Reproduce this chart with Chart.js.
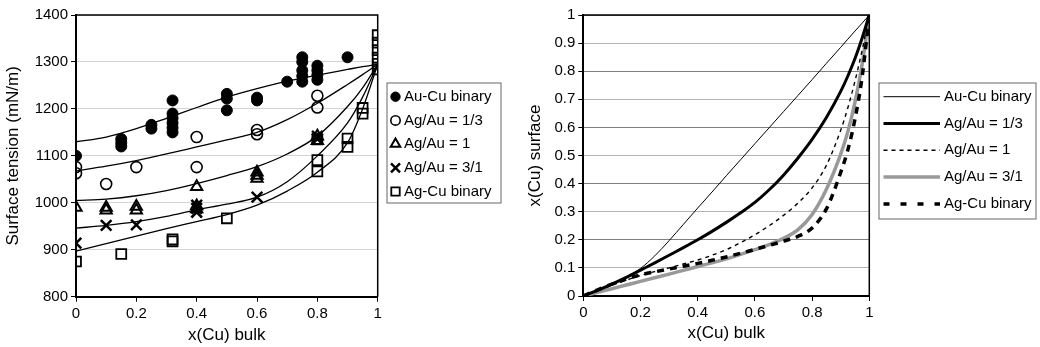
<!DOCTYPE html>
<html>
<head>
<meta charset="utf-8">
<script src="https://cdn.jsdelivr.net/npm/chart.js@4.4.1/dist/chart.umd.min.js"></script>
<style>
  html, body { margin: 0; padding: 0; background: #fff; }
  .box { position: absolute; top: 0; width: 520px; height: 347px; }
  #leftBox { left: 0; }
  #rightBox { left: 520px; }
</style>
</head>
<body>
<div class="box" id="leftBox"><canvas id="tensionChart" width="520" height="347"></canvas></div>
<div class="box" id="rightBox"><canvas id="surfaceChart" width="520" height="347"></canvas></div>
<script>
// ---- left chart: surface tension vs bulk composition ----
const seriesNames = ['Au-Cu binary', 'Ag/Au = 1/3', 'Ag/Au = 1', 'Ag/Au = 3/1', 'Ag-Cu binary'];

// model curves
const fitX = [0, 0.1, 0.2, 0.3, 0.4, 0.5, 0.6, 0.7, 0.8, 0.9, 0.95, 1];
const fitAuCu = [1130, 1140, 1158, 1180, 1203, 1225, 1243, 1259, 1272, 1284, 1290, 1295];
const fitAgAu13 = [1068, 1078, 1090, 1104, 1119, 1134, 1150, 1177, 1212, 1252, 1273, 1295];
const fitAgAu1 = [1005, 1008, 1015, 1026, 1041, 1058, 1077, 1104, 1142, 1205, 1245, 1295];
const fitAgAu31 = [946, 952, 960, 971, 985, 997, 1012, 1045, 1100, 1170, 1225, 1295];
const fitAgCu = [897, 913, 929, 945, 960, 975, 995, 1025, 1065, 1128, 1200, 1295];

// measured points
const auCuX = [0, 0.15, 0.15, 0.15, 0.25, 0.25, 0.32, 0.32, 0.32, 0.32, 0.32, 0.32, 0.5, 0.5, 0.5, 0.6, 0.6, 0.7, 0.75, 0.75, 0.75, 0.75, 0.75, 0.8, 0.8, 0.8, 0.8, 0.9];
const auCuY = [1100, 1120, 1128, 1136, 1158, 1166, 1150, 1160, 1170, 1180, 1190, 1218, 1197, 1222, 1232, 1218, 1224, 1258, 1258, 1270, 1282, 1300, 1310, 1262, 1272, 1282, 1292, 1310];
const agAu13X = [0, 0, 0.1, 0.2, 0.4, 0.4, 0.6, 0.6, 0.8, 0.8];
const agAu13Y = [1076, 1063, 1040, 1076, 1140, 1076, 1155, 1146, 1228, 1203];
const agAu1X = [0, 0.1, 0.1, 0.2, 0.2, 0.4, 0.4, 0.4, 0.6, 0.6, 0.6, 0.8, 0.8];
const agAu1Y = [990, 990, 984, 992, 984, 1034, 993, 987, 1065, 1058, 1052, 1142, 1132];
const agAu31X = [0, 0.1, 0.2, 0.4, 0.4, 0.4, 0.6, 0.8, 0.8];
const agAu31Y = [914, 952, 953, 995, 988, 980, 1012, 1142, 1136];
const agCuX = [0, 0.15, 0.32, 0.32, 0.5, 0.8, 0.8, 0.8, 0.9, 0.9, 0.95, 0.95, 1, 1, 1, 1, 1, 1];
const agCuY = [875, 891, 922, 918, 967, 1135, 1091, 1067, 1137, 1119, 1202, 1190, 1357, 1341, 1325, 1309, 1296, 1284];

// ---- right chart: surface vs bulk composition ----
const bulkX = [0, 0.05, 0.1, 0.15, 0.2, 0.25, 0.3, 0.35, 0.4, 0.45, 0.5, 0.55, 0.6, 0.65, 0.7, 0.75, 0.8, 0.85, 0.9, 0.925, 0.95, 0.975, 1];
const surfAuCu = [0, 0.018, 0.04, 0.067, 0.098, 0.143, 0.197, 0.255, 0.313, 0.37, 0.428, 0.485, 0.542, 0.599, 0.656, 0.713, 0.77, 0.828, 0.885, 0.914, 0.943, 0.971, 1];
const surfAgAu13 = [0, 0.02, 0.042, 0.066, 0.092, 0.118, 0.145, 0.172, 0.2, 0.23, 0.262, 0.296, 0.333, 0.378, 0.43, 0.49, 0.557, 0.635, 0.728, 0.783, 0.845, 0.918, 1];
const surfAgAu1 = [0, 0.019, 0.038, 0.056, 0.073, 0.087, 0.1, 0.114, 0.128, 0.145, 0.165, 0.19, 0.218, 0.25, 0.287, 0.33, 0.385, 0.465, 0.59, 0.67, 0.765, 0.875, 1];
const surfAgAu31 = [0, 0.013, 0.026, 0.039, 0.052, 0.065, 0.078, 0.091, 0.105, 0.118, 0.132, 0.148, 0.165, 0.183, 0.205, 0.235, 0.29, 0.38, 0.505, 0.585, 0.69, 0.825, 1];
const surfAgCu = [0, 0.022, 0.042, 0.06, 0.075, 0.086, 0.096, 0.106, 0.116, 0.127, 0.139, 0.152, 0.166, 0.18, 0.195, 0.212, 0.242, 0.31, 0.44, 0.52, 0.63, 0.78, 1];

const FONT = 'Liberation Sans, Arial, Helvetica, sans-serif';
Chart.defaults.font.family = FONT;
Chart.defaults.font.size = 15;
Chart.defaults.color = '#000';

const pairs = (xs, ys) => xs.map((x, i) => ({ x: x, y: ys[i] }));
const plainTick = v => String(Math.round(v * 10) / 10);
const titleFont = { size: 17 };

// black frame on top and right of the plot area
const framePlugin = {
    id: 'frame',
    afterDraw(chart) {
        const a = chart.chartArea, c = chart.ctx;
        c.save();
        c.strokeStyle = '#000';
        c.lineWidth = 1.5;
        c.beginPath();
        c.moveTo(a.left, a.top);
        c.lineTo(a.right, a.top);
        c.lineTo(a.right, a.bottom);
        c.stroke();
        c.restore();
    }
};

// boxed legend drawn at a fixed spot
function boxLegend(box, rowY, drawKey) {
    return {
        id: 'boxLegend',
        afterDraw(chart) {
            const c = chart.ctx;
            c.save();
            c.fillStyle = '#fff';
            c.fillRect(box.x, box.y, box.w, box.h);
            c.strokeStyle = '#666';
            c.lineWidth = 1;
            c.strokeRect(box.x + 0.5, box.y + 0.5, box.w, box.h);
            seriesNames.forEach((name, i) => {
                const textX = drawKey(c, i, rowY[i]);
                c.fillStyle = '#000';
                c.font = '15px ' + FONT;
                c.textBaseline = 'middle';
                c.textAlign = 'left';
                c.fillText(name, textX, rowY[i]);
            });
            c.restore();
        }
    };
}

// ----- left chart -----
const markers = [
    { style: 'circle', radius: 5.5, fill: '#000', width: 1 },
    { style: 'circle', radius: 5.5, fill: 'rgba(255,255,255,0)', width: 1.6 },
    { style: 'triangle', radius: 6.5, fill: 'rgba(255,255,255,0)', width: 2 },
    { style: 'crossRot', radius: 7.5, fill: 'rgba(255,255,255,0)', width: 2.5 },
    { style: 'rect', radius: 7, fill: 'rgba(255,255,255,0)', width: 1.8 }
];
const pointSets = [pairs(auCuX, auCuY), pairs(agAu13X, agAu13Y), pairs(agAu1X, agAu1Y), pairs(agAu31X, agAu31Y), pairs(agCuX, agCuY)];
const fitSets = [fitAuCu, fitAgAu13, fitAgAu1, fitAgAu31, fitAgCu].map(ys => pairs(fitX, ys));

const leftSets = [];
fitSets.forEach(d => leftSets.push({
    type: 'line', data: d, borderColor: '#000', borderWidth: 1.3,
    pointRadius: 0, cubicInterpolationMode: 'monotone', fill: false
}));
pointSets.forEach((d, i) => leftSets.push({
    type: 'scatter', data: d, showLine: false,
    pointStyle: markers[i].style, pointRadius: markers[i].radius,
    pointBackgroundColor: markers[i].fill, pointBorderColor: '#000',
    pointBorderWidth: markers[i].width
}));

const leftLegend = boxLegend({ x: 386.5, y: 82.5, w: 114, h: 120 },
    [96.7, 120.4, 144.1, 167.8, 191.5],
    (c, i, y) => {
        const m = markers[i];
        c.fillStyle = i === 0 ? '#000' : '#fff';
        c.strokeStyle = '#000';
        c.lineWidth = m.width;
        Chart.helpers.drawPoint(c, { pointStyle: m.style, radius: m.radius * 0.85, rotation: 0, borderWidth: m.width }, 395.5, y);
        return 404;
    });

new Chart(document.getElementById('tensionChart'), {
    data: { datasets: leftSets },
    options: {
        responsive: false, animation: false, events: [],
        layout: { padding: { left: 0, top: 15, right: 142.3, bottom: 0 } },
        plugins: { legend: { display: false }, tooltip: { enabled: false } },
        scales: {
            x: {
                type: 'linear', min: 0, max: 1,
                ticks: { stepSize: 0.2, padding: 3, callback: plainTick },
                grid: { drawOnChartArea: false, tickLength: 5, tickColor: '#000' },
                border: { color: '#000', width: 2 },
                title: { display: true, text: 'x(Cu) bulk', font: titleFont, padding: { top: 0, bottom: 1 } },
                afterFit(s) { s.height = 50.3; }
            },
            y: {
                type: 'linear', min: 800, max: 1400,
                ticks: { stepSize: 100, padding: 3, callback: v => String(v) },
                grid: { color: '#d4d4d4', tickLength: 5, tickColor: '#000' },
                border: { color: '#000', width: 2 },
                title: { display: true, text: 'Surface tension (mN/m)', font: titleFont, padding: { top: 3, bottom: 2 } },
                afterFit(s) { s.width = 76; }
            }
        }
    },
    plugins: [framePlugin, leftLegend]
});

// ----- right chart -----
const lineStyles = [
    { color: '#000', width: 1, dash: [] },
    { color: '#000', width: 3, dash: [] },
    { color: '#000', width: 1.4, dash: [4, 4] },
    { color: '#999', width: 3.5, dash: [] },
    { color: '#000', width: 3.5, dash: [7, 6] }
];
const surfSets = [surfAuCu, surfAgAu13, surfAgAu1, surfAgAu31, surfAgCu];

const rightLegend = boxLegend({ x: 358.5, y: 82.5, w: 157, h: 136 },
    [96.7, 123.5, 150.3, 177.1, 204],
    (c, i, y) => {
        const s = lineStyles[i];
        c.strokeStyle = s.color;
        c.lineWidth = s.width;
        c.setLineDash(i === 4 ? [6, 11] : s.dash);
        c.beginPath();
        c.moveTo(363.5, y);
        c.lineTo(420, y);
        c.stroke();
        c.setLineDash([]);
        return 424;
    });

new Chart(document.getElementById('surfaceChart'), {
    type: 'line',
    data: {
        datasets: surfSets.map((ys, i) => ({
            data: pairs(bulkX, ys),
            borderColor: lineStyles[i].color,
            borderWidth: lineStyles[i].width,
            borderDash: lineStyles[i].dash,
            pointRadius: 0, fill: false,
            cubicInterpolationMode: 'monotone',
            order: [1, 2, 3, 5, 4][i]
        }))
    },
    options: {
        responsive: false, animation: false, events: [],
        layout: { padding: { left: 0, top: 15, right: 170.7, bottom: 0 } },
        plugins: { legend: { display: false }, tooltip: { enabled: false } },
        scales: {
            x: {
                type: 'linear', min: 0, max: 1,
                ticks: { stepSize: 0.2, padding: 3, callback: plainTick },
                grid: { drawOnChartArea: false, tickLength: 5, tickColor: '#000' },
                border: { color: '#000', width: 2 },
                title: { display: true, text: 'x(Cu) bulk', font: titleFont, padding: { top: 0, bottom: 3 } },
                afterFit(s) { s.height = 51; }
            },
            y: {
                type: 'linear', min: 0, max: 1,
                ticks: { stepSize: 0.1, padding: 3, callback: plainTick },
                grid: {
                    color: ctx => (Math.round(ctx.tick.value * 10) % 2 === 0 ? '#808080' : '#b4b4b4'),
                    tickLength: 5, tickColor: '#000'
                },
                border: { color: '#000', width: 2 },
                title: { display: true, text: 'x(Cu) surface', font: titleFont, padding: { top: 5, bottom: 2 } },
                afterFit(s) { s.width = 63.3; }
            }
        }
    },
    plugins: [framePlugin, rightLegend]
});
</script>
</body>
</html>
